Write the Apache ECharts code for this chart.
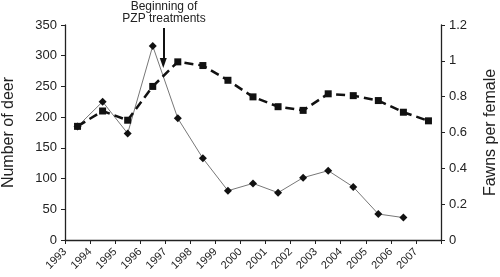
<!DOCTYPE html>
<html>
<head>
<meta charset="utf-8">
<script src="https://cdn.jsdelivr.net/npm/echarts@6/dist/echarts.min.js"></script>
<style>
  html, body { margin: 0; padding: 0; background: #fff; }
  #chart { width: 500px; height: 277px; }
</style>
</head>
<body>
<div id="chart"></div>
<script>
// points sit in the middle of each year
var years = [1993.5, 1994.5, 1995.5, 1996.5, 1997.5, 1998.5, 1999.5, 2000.5, 2001.5, 2002.5, 2003.5, 2004.5, 2005.5, 2006.5, 2007.5];
var deerCount = [185, 210, 195, 250, 290, 284, 260, 233, 217, 211, 238, 235, 227, 208, 194];
var fawnYears = [1993.5, 1994.5, 1995.5, 1996.5, 1997.5, 1998.5, 1999.5, 2000.5, 2001.5, 2002.5, 2003.5, 2004.5, 2005.5, 2006.5];
var fawnsPerFemale = [0.634, 0.772, 0.595, 1.083, 0.679, 0.456, 0.275, 0.316, 0.264, 0.348, 0.387, 0.296, 0.145, 0.125];
var treatmentYear = 1996.92;

var fontFamily = '"Liberation Sans", Arial, Helvetica, sans-serif';

var chartDom = document.getElementById('chart');
var myChart = echarts.init(chartDom);
var option;

option = {
  animation: false,
  textStyle: { fontFamily: fontFamily },
  title: {
    text: 'Beginning of\nPZP treatments',
    left: 164,
    top: 0,
    padding: 0,
    textAlign: 'center',
    textStyle: { fontSize: 12, fontWeight: 'normal', color: '#222', lineHeight: 12.5, fontFamily: fontFamily }
  },
  grid: { left: 65, right: 59, top: 25, bottom: 37, outerBoundsMode: 'none' },
  xAxis: {
    type: 'value',
    min: 1993,
    max: 2008,
    interval: 1,
    splitLine: { show: false },
    axisLine: { lineStyle: { color: '#222', width: 1.3 } },
    axisTick: { length: 4, lineStyle: { color: '#222' } },
    axisLabel: {
      rotate: 45,
      fontSize: 11,
      color: '#222',
      margin: 10,
      formatter: function (v) { return v === 2008 ? '' : String(v); }
    }
  },
  yAxis: [
    {
      type: 'value',
      min: 0,
      max: 350,
      interval: 50,
      name: 'Number of deer',
      nameLocation: 'middle',
      nameRotate: 90,
      nameGap: 48,
      nameTextStyle: { fontSize: 16, color: '#222' },
      splitLine: { show: false },
      axisLine: { show: true, lineStyle: { color: '#222', width: 1.3 } },
      axisTick: { show: true, length: 4, lineStyle: { color: '#222' } },
      axisLabel: { fontSize: 13, color: '#222', margin: 8 }
    },
    {
      type: 'value',
      min: 0,
      max: 1.2,
      interval: 0.2,
      position: 'right',
      name: 'Fawns per female',
      nameLocation: 'middle',
      nameRotate: 90,
      nameGap: 42,
      nameTextStyle: { fontSize: 16, color: '#222' },
      splitLine: { show: false },
      axisLine: { show: true, lineStyle: { color: '#222', width: 1.3 } },
      axisTick: { show: true, length: 4, lineStyle: { color: '#222' } },
      axisLabel: { fontSize: 13, color: '#222', margin: 8 }
    }
  ],
  series: [
    {
      name: 'Fawns per female',
      type: 'line',
      yAxisIndex: 1,
      data: fawnYears.map(function (x, i) { return [x, fawnsPerFemale[i]]; }),
      symbol: 'diamond',
      symbolSize: 8,
      itemStyle: { color: '#111' },
      lineStyle: { color: '#777', width: 1 },
      z: 2
    },
    {
      name: 'Number of deer',
      type: 'line',
      yAxisIndex: 0,
      data: years.map(function (x, i) { return [x, deerCount[i]]; }),
      symbol: 'rect',
      symbolSize: 7,
      itemStyle: { color: '#111' },
      lineStyle: { color: '#111', width: 2.5, type: [9, 5] },
      z: 3,
      markLine: {
        silent: true,
        symbol: ['none', 'triangle'],
        symbolSize: [7, 10],
        symbolRotate: 180,
        label: { show: false },
        lineStyle: { color: '#111', width: 2, type: 'solid' },
        data: [[{ coord: [treatmentYear, 345] }, { coord: [treatmentYear, 288] }]]
      }
    }
  ]
};

myChart.setOption(option);
</script>
</body>
</html>
